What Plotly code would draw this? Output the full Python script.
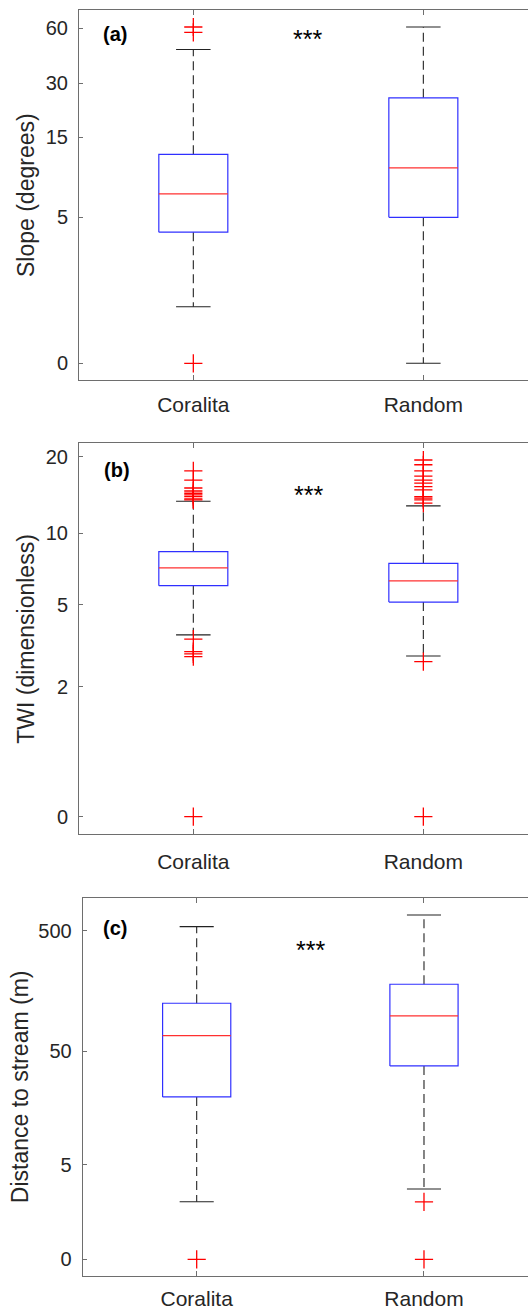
import plotly.graph_objects as go

W, H = 528, 1312

categories = ["Coralita", "Random"]

# Panel (a) Slope (degrees)
slope_lower = [1.0, 0.0]
slope_q1 = [4.0, 5.0]
slope_median = [7.0, 10.0]
slope_q3 = [12.0, 25.0]
slope_upper = [46.0, 61.0]
slope_outliers = [[0.0, 57.0, 61.0], []]
slope_ticks = [0, 5, 15, 30, 60]

# Panel (b) TWI (dimensionless)
twi_lower = [3.65, 2.89]
twi_q1 = [6.05, 5.14]
twi_median = [7.2, 6.34]
twi_q3 = [8.4, 7.52]
twi_upper = [13.4, 12.84]
twi_outliers = [
    [0.0, 2.87, 2.96, 3.04, 3.49, 13.56, 13.7, 13.97, 14.2, 14.4, 14.7, 15.1, 16.2, 17.6],
    [0.0, 2.71, 13.16, 13.56, 13.77, 13.97, 14.85, 15.3, 15.77, 16.2, 16.8, 17.6, 18.6, 19.4],
]
twi_ticks = [0, 2, 5, 10, 20]

# Panel (c) Distance to stream (m)
dist_lower = [1.97, 2.78]
dist_q1 = [20.6, 37.8]
dist_median = [67.8, 99.0]
dist_q3 = [126.0, 181.0]
dist_upper = [540.0, 674.0]
dist_outliers = [[0.0], [0.0, 1.97]]
dist_ticks = [0, 5, 50, 500]

panels = [
    dict(lower=slope_lower, q1=slope_q1, med=slope_median, q3=slope_q3, upper=slope_upper,
         out=slope_outliers, ticks=slope_ticks, title="Slope (degrees)", tag="(a)",
         top=10, bottom=380, left=79, xr=[0.503, 2.455], yr=[-0.089, 1.883],
         xstand=6, ystand=6, title_x=26, tag_xy=(101, 34), star_xy=(307, 36)),
    dict(lower=twi_lower, q1=twi_q1, med=twi_median, q3=twi_q3, upper=twi_upper,
         out=twi_outliers, ticks=twi_ticks, title="TWI (dimensionless)", tag="(b)",
         top=443.3, bottom=834.3, left=79, xr=[0.503, 2.455], yr=[-0.0646, 1.371],
         xstand=8, ystand=6, title_x=26, tag_xy=(101.5, 470), star_xy=(308, 492)),
    dict(lower=dist_lower, q1=dist_q1, med=dist_median, q3=dist_q3, upper=dist_upper,
         out=dist_outliers, ticks=dist_ticks, title="Distance to stream (m)", tag="(c)",
         top=898.3, bottom=1276, left=82.7, xr=[0.4985, 2.4576], yr=[-0.137, 2.966],
         xstand=4, ystand=6, title_x=20, tag_xy=(101, 928), star_xy=(310, 946.7)),
]

BOX_HALF = 0.15
CAP_HALF = 0.075
FONT = "Liberation Sans, Arial, sans-serif"
TXT = "#262626"
AXC = "#6e6e6e"

fig = go.Figure()
annotations = []
layout_axes = {}

for i, p in enumerate(panels):
    n = "" if i == 0 else str(i + 1)
    xa, ya = "x" + n, "y" + n
    for j, cat in enumerate(categories):
        c = j + 1
        lw, q1, md, q3, uw = (p["lower"][j] + 1, p["q1"][j] + 1, p["med"][j] + 1,
                              p["q3"][j] + 1, p["upper"][j] + 1)
        # whiskers (dashed)
        fig.add_trace(go.Scatter(x=[c, c, None, c, c], y=[q3, uw, None, q1, lw],
                                 mode="lines", line=dict(color="#222222", width=1.1, dash="9px,5px"),
                                 xaxis=xa, yaxis=ya, showlegend=False, hoverinfo="skip"))
        # caps
        fig.add_trace(go.Scatter(x=[c - CAP_HALF, c + CAP_HALF, None, c - CAP_HALF, c + CAP_HALF],
                                 y=[uw, uw, None, lw, lw], mode="lines",
                                 line=dict(color="#222222", width=1.1),
                                 xaxis=xa, yaxis=ya, showlegend=False, hoverinfo="skip"))
        # box
        fig.add_trace(go.Scatter(x=[c - BOX_HALF, c + BOX_HALF, c + BOX_HALF, c - BOX_HALF, c - BOX_HALF],
                                 y=[q1, q1, q3, q3, q1], mode="lines",
                                 line=dict(color="#3030ff", width=1.2),
                                 xaxis=xa, yaxis=ya, showlegend=False, hoverinfo="skip"))
        # median
        fig.add_trace(go.Scatter(x=[c - BOX_HALF, c + BOX_HALF], y=[md, md], mode="lines",
                                 line=dict(color="#ff3030", width=1.2),
                                 xaxis=xa, yaxis=ya, showlegend=False, hoverinfo="skip"))
        # outliers
        outs = p["out"][j]
        if outs:
            fig.add_trace(go.Scatter(x=[c] * len(outs), y=[v + 1 for v in outs], mode="markers",
                                     marker=dict(symbol="cross-thin", size=13,
                                                 line=dict(color="#ff0000", width=1.3)),
                                     xaxis=xa, yaxis=ya, showlegend=False, hoverinfo="skip"))

    ydom = [1 - p["bottom"] / H, 1 - p["top"] / H]
    layout_axes["xaxis" + n] = dict(
        domain=[p["left"] / W, 1.0], range=p["xr"], anchor=ya,
        tickvals=[1, 2], ticktext=categories, ticks="inside", ticklen=5, tickcolor=AXC,
        showline=True, linecolor=AXC, linewidth=1, mirror="ticks",
        showgrid=False, zeroline=False, ticklabelstandoff=p["xstand"],
        tickfont=dict(family=FONT, size=21, color=TXT))
    layout_axes["yaxis" + n] = dict(
        domain=ydom, type="log", range=p["yr"], anchor=xa,
        tickvals=[t + 1 for t in p["ticks"]], ticktext=[str(t) for t in p["ticks"]],
        ticks="inside", ticklen=4, tickcolor=AXC,
        showline=True, linecolor=AXC, linewidth=1, mirror=False,
        showgrid=False, zeroline=False, ticklabelstandoff=p["ystand"],
        tickfont=dict(family=FONT, size=20, color=TXT))

    annotations.append(dict(text=p["title"], textangle=-90, xref="paper", yref="paper",
                            x=p["title_x"] / W, y=1 - (p["top"] + p["bottom"]) / 2 / H,
                            xanchor="center", yanchor="middle", showarrow=False,
                            font=dict(family=FONT, size=23, color=TXT)))
    annotations.append(dict(text="<b>" + p["tag"] + "</b>", xref="paper", yref="paper",
                            x=p["tag_xy"][0] / W, y=1 - p["tag_xy"][1] / H,
                            xanchor="left", yanchor="middle", showarrow=False,
                            font=dict(family=FONT, size=20, color="#000000")))
    annotations.append(dict(text="***", xref="paper", yref="paper",
                            x=p["star_xy"][0] / W, y=1 - (p["star_xy"][1] + 3) / H,
                            xanchor="center", yanchor="middle", showarrow=False,
                            font=dict(family=FONT, size=25, color="#000000")))

fig.update_layout(
    width=W, height=H, margin=dict(l=0, r=0, t=0, b=0, pad=0),
    paper_bgcolor="white", plot_bgcolor="white",
    annotations=annotations, showlegend=False, **layout_axes)

fig.write_html("out.html", config={"displayModeBar": False},
               post_script="document.body.style.margin='0';document.body.style.overflow='hidden';")
